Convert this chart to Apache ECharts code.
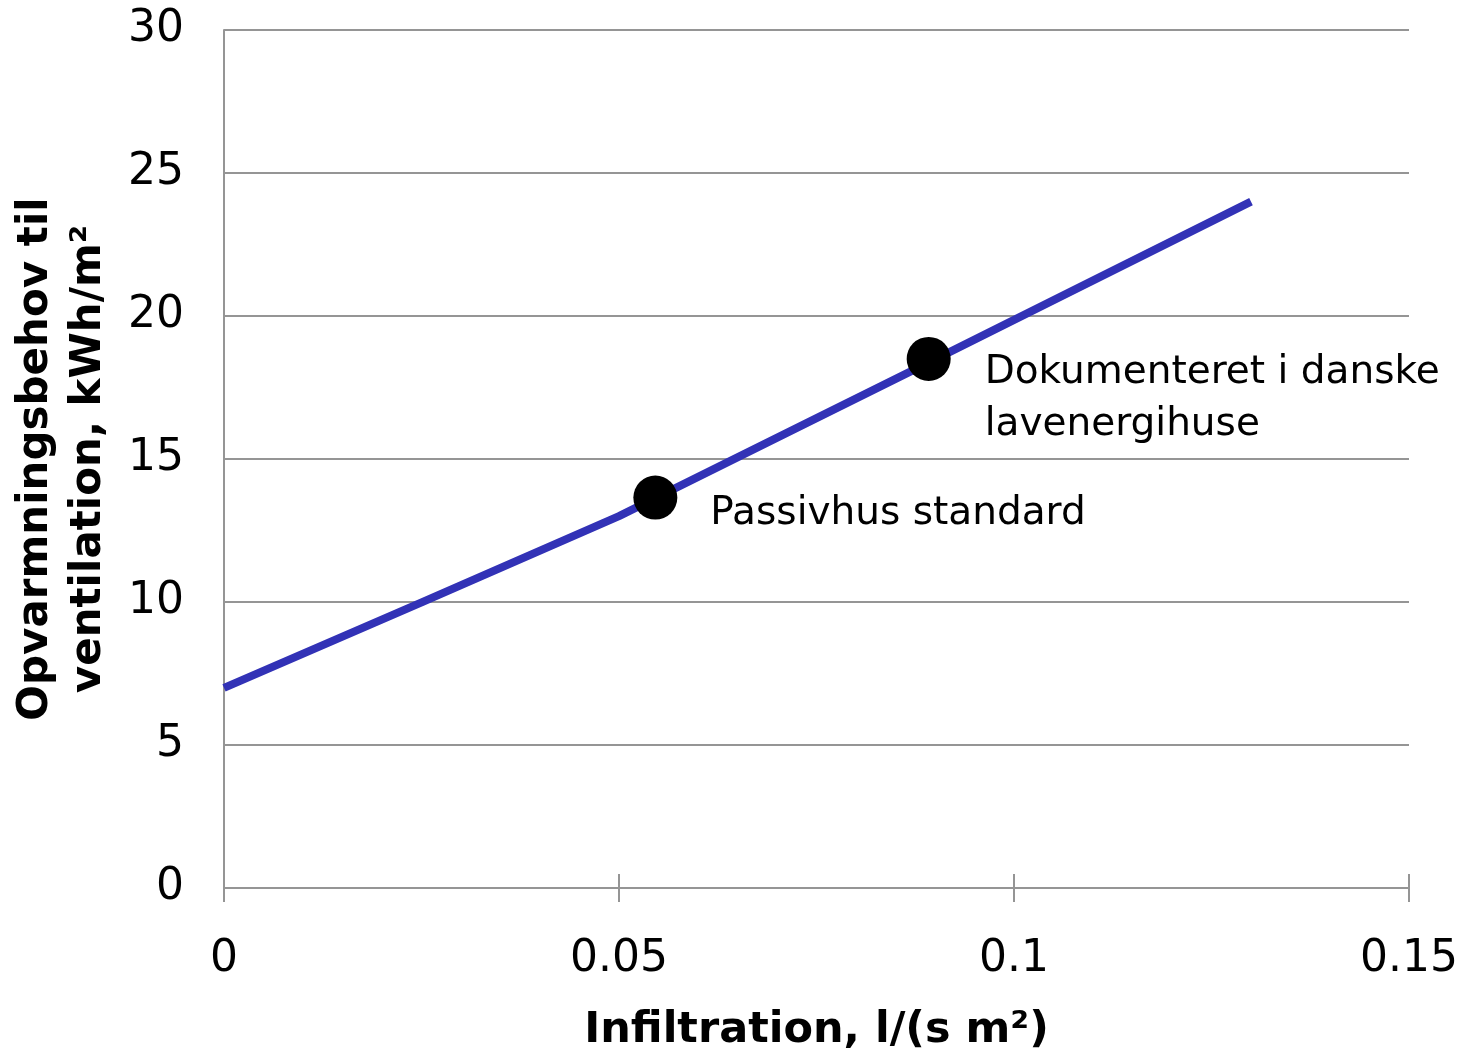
<!DOCTYPE html>
<html>
<head>
<meta charset="utf-8">
<script src="https://cdn.jsdelivr.net/npm/echarts@6/dist/echarts.min.js"></script>
<style>html,body{margin:0;padding:0;background:#fff;}#c{width:1461px;height:1052px;}</style>
</head>
<body>
<div id="c"></div>
<script>
const lineX = [0, 0.05, 0.13];
const lineY = [7, 13, 24];
const pointNames = ['Passivhus standard', 'Dokumenteret i danske\nlavenergihuse'];
const pointX = [0.0546, 0.0892];
const pointY = [13.65, 18.5];
const xTicks = [0, 0.05, 0.1, 0.15];
const yTicks = [0, 5, 10, 15, 20, 25, 30];

const FONT = 'DejaVu Sans';
const chart = echarts.init(document.getElementById('c'), null, {renderer: 'canvas'});
const gridColor = '#959595';
chart.setOption({
  animation: false,
  backgroundColor: '#fff',
  grid: {left: 224, right: 52, top: 30, bottom: 164, containLabel: false, outerBoundsMode: 'none'},
  xAxis: [{
    type: 'value', min: 0, max: 0.15, interval: 0.05,
    position: 'bottom',
    name: 'Infiltration, l/(s m²)', nameLocation: 'middle', nameGap: 121,
    nameTextStyle: {fontFamily: FONT, fontWeight: 'bold', fontSize: 43, color: '#000'},
    axisLine: {show: true, lineStyle: {color: gridColor, width: 2}},
    axisTick: {show: true, length: 14, lineStyle: {color: gridColor, width: 2}},
    axisLabel: {fontFamily: FONT, fontSize: 44, color: '#000', margin: 50,
      formatter: v => String(Math.round(v*100)/100)},
    splitLine: {show: false}
  }, {
    type: 'value', min: 0, max: 0.15, interval: 0.05,
    position: 'bottom',
    axisLine: {show: false},
    axisTick: {show: true, inside: true, length: 14, lineStyle: {color: gridColor, width: 2}},
    axisLabel: {show: false},
    splitLine: {show: false}
  }],
  yAxis: {
    type: 'value', min: 0, max: 30, interval: 5,
    name: 'Opvarmningsbehov til\nventilation, kWh/m²', nameLocation: 'middle', nameGap: 108,
    nameTextStyle: {fontFamily: FONT, fontWeight: 'bold', fontSize: 42, color: '#000', lineHeight: 53},
    axisLine: {show: true, lineStyle: {color: gridColor, width: 2}},
    axisTick: {show: false},
    axisLabel: {fontFamily: FONT, fontSize: 44, color: '#000', margin: 40, padding: [6, 0, 0, 0]},
    splitLine: {show: true, lineStyle: {color: gridColor, width: 2}}
  },
  series: [{
    type: 'line',
    data: lineX.map((x, i) => [x, lineY[i]]),
    symbol: 'none',
    smooth: 0.08,
    lineStyle: {color: '#3232B6', width: 8},
    z: 2
  }, {
    type: 'scatter',
    data: pointX.map((x, i) => ({
      value: [x, pointY[i]], name: pointNames[i],
      label: i === 0 ? {position: [77, 38]} : {position: [78, 62]}
    })),
    symbol: 'circle', symbolSize: 44,
    itemStyle: {color: '#000', opacity: 1},
    label: {show: true, formatter: p => p.name, fontFamily: FONT, fontSize: 39,
      color: '#000', opacity: 1, verticalAlign: 'middle', align: 'left', lineHeight: 52},
    z: 3
  }]
});
</script>
</body>
</html>
